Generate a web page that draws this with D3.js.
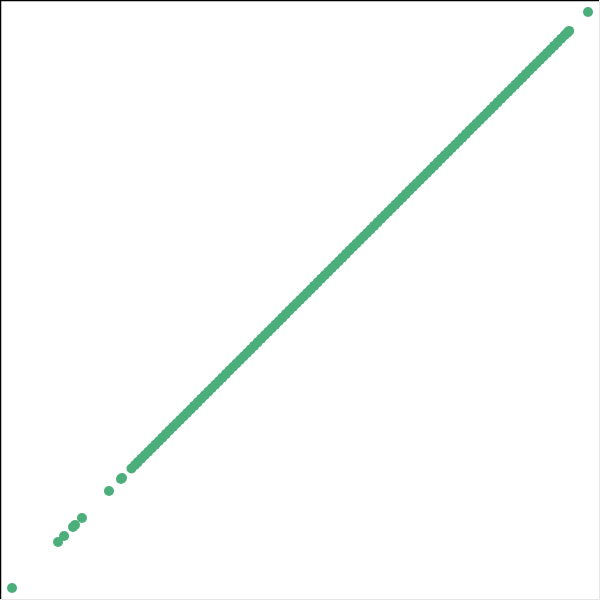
<!DOCTYPE html>
<html><head><meta charset="utf-8">
<script src="https://cdn.jsdelivr.net/npm/d3@7"></script>
<style>html,body{margin:0;padding:0;background:#fff}svg{display:block}</style>
</head><body>
<script>
const theoretical = [-3.264,-2.742,-2.674,-2.573,-2.55,-2.471,-2.165,-2.029,-2.017,
-1.91,-1.87,-1.84,-1.80,-1.76,-1.72,-1.68,-1.64,-1.60,-1.56,-1.52,-1.48,-1.44,-1.40,-1.36,-1.32,-1.28,-1.24,-1.20,-1.16,-1.12,-1.08,-1.04,-1.00,-0.96,-0.92,-0.88,-0.84,-0.80,-0.76,-0.72,-0.68,-0.64,-0.60,-0.56,-0.52,-0.48,-0.44,-0.40,-0.36,-0.32,-0.28,-0.24,-0.20,-0.16,-0.12,-0.08,-0.04,0.00,0.04,0.08,0.12,0.16,0.20,0.24,0.28,0.32,0.36,0.40,0.44,0.48,0.52,0.56,0.60,0.64,0.68,0.72,0.76,0.80,0.84,0.88,0.92,0.96,1.00,1.04,1.08,1.12,1.16,1.20,1.24,1.28,1.32,1.36,1.40,1.44,1.48,1.52,1.56,1.60,1.64,1.68,1.72,1.76,1.80,1.84,1.88,1.92,1.96,2.00,2.04,2.08,2.12,2.16,2.20,2.24,2.28,2.32,2.36,2.40,2.44,2.48,2.52,2.56,2.60,2.64,2.68,2.72,2.76,2.80,2.84,2.88,2.92,2.96,3.00,3.03,3.05,3.264];
const sample = [-3.264,-2.742,-2.674,-2.573,-2.55,-2.471,-2.165,-2.029,-2.017,
-1.91,-1.87,-1.84,-1.80,-1.76,-1.72,-1.68,-1.64,-1.60,-1.56,-1.52,-1.48,-1.44,-1.40,-1.36,-1.32,-1.28,-1.24,-1.20,-1.16,-1.12,-1.08,-1.04,-1.00,-0.96,-0.92,-0.88,-0.84,-0.80,-0.76,-0.72,-0.68,-0.64,-0.60,-0.56,-0.52,-0.48,-0.44,-0.40,-0.36,-0.32,-0.28,-0.24,-0.20,-0.16,-0.12,-0.08,-0.04,0.00,0.04,0.08,0.12,0.16,0.20,0.24,0.28,0.32,0.36,0.40,0.44,0.48,0.52,0.56,0.60,0.64,0.68,0.72,0.76,0.80,0.84,0.88,0.92,0.96,1.00,1.04,1.08,1.12,1.16,1.20,1.24,1.28,1.32,1.36,1.40,1.44,1.48,1.52,1.56,1.60,1.64,1.68,1.72,1.76,1.80,1.84,1.88,1.92,1.96,2.00,2.04,2.08,2.12,2.16,2.20,2.24,2.28,2.32,2.36,2.40,2.44,2.48,2.52,2.56,2.60,2.64,2.68,2.72,2.76,2.80,2.84,2.88,2.92,2.96,3.00,3.03,3.05,3.264];

const W = 600, H = 600;
const x = d3.scaleLinear().domain([-3.4, 3.4]).range([0, W]);
const y = d3.scaleLinear().domain([-3.4, 3.4]).range([H, 0]);

const svg = d3.select("body").append("svg").attr("width", W).attr("height", H);
svg.append("rect").attr("width", W).attr("height", H).attr("fill", "#fff");

svg.append("g").selectAll("circle")
  .data(theoretical.map((t, i) => [t, sample[i]]))
  .join("circle")
  .attr("cx", d => x(d[0]))
  .attr("cy", d => y(d[1]))
  .attr("r", 5)
  .attr("fill", "#4caf7b");

// frame: dark top/left, light bottom/right
svg.append("line").attr("x1",0).attr("x2",W).attr("y1",0.5).attr("y2",0.5).attr("stroke","#000").attr("stroke-width",1.5);
svg.append("line").attr("x1",0.5).attr("x2",0.5).attr("y1",0).attr("y2",H).attr("stroke","#000").attr("stroke-width",1.5);
svg.append("line").attr("x1",0).attr("x2",W).attr("y1",H-0.5).attr("y2",H-0.5).attr("stroke","#e6e6e6");
svg.append("line").attr("x1",W-0.5).attr("x2",W-0.5).attr("y1",0).attr("y2",H).attr("stroke","#e6e6e6");
</script>
</body></html>
